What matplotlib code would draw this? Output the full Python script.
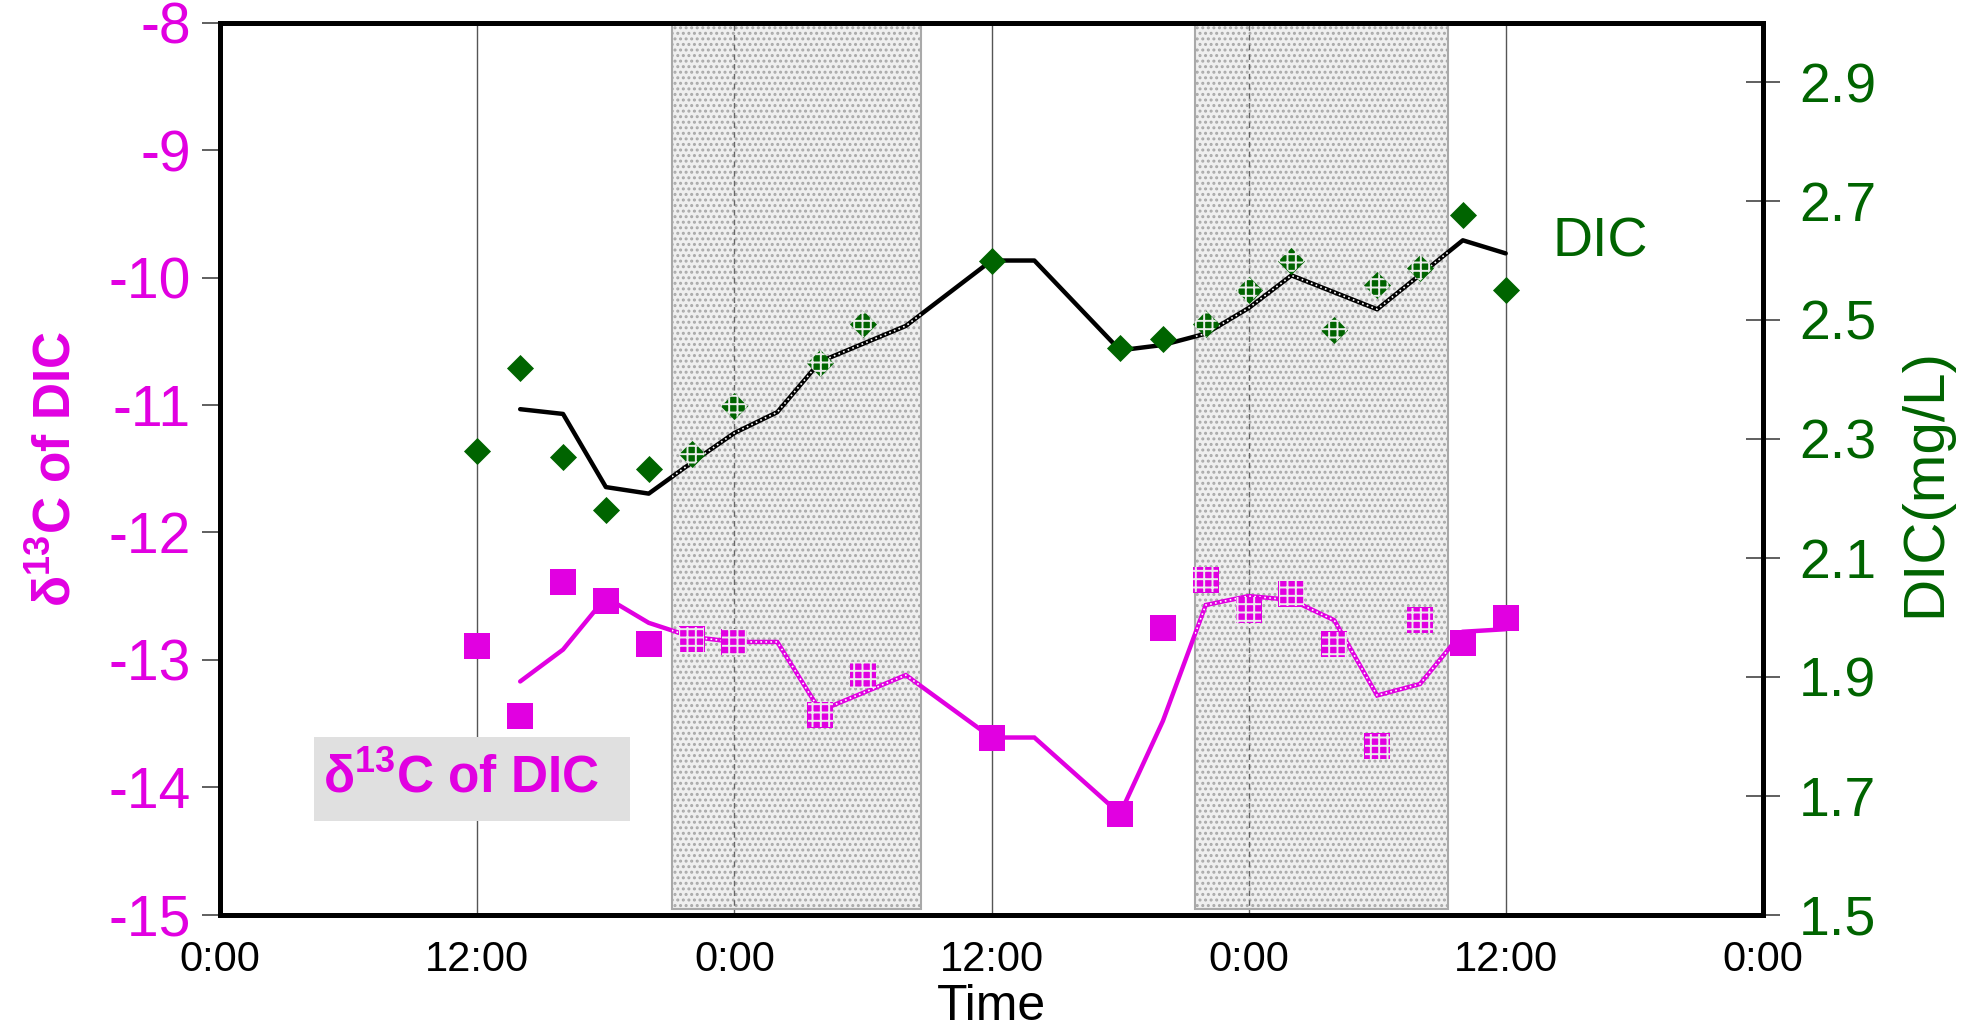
import matplotlib
matplotlib.use("Agg")
import matplotlib.pyplot as plt
from matplotlib.patches import Rectangle
from matplotlib.transforms import blended_transform_factory
import numpy as np

plt.rcParams['font.family'] = ['Liberation Sans', 'DejaVu Sans']
plt.rcParams['mathtext.fontset'] = 'custom'
plt.rcParams['mathtext.rm'] = 'Liberation Sans'
plt.rcParams['mathtext.bf'] = 'Liberation Sans:bold'
plt.rcParams['hatch.linewidth'] = 1.4

MAGENTA = '#e100e1'
GREEN = '#006400'

# sampling times, hours from the first midnight
t_pts = [12, 14, 16, 18, 20, 22, 24, 28, 30, 36, 42, 44, 46, 48, 50, 52, 54, 56, 58, 60]
dic_pts = [2.28, 2.42, 2.27, 2.18, 2.25, 2.275, 2.355, 2.427, 2.493, 2.60,
           2.453, 2.468, 2.493, 2.55, 2.60, 2.483, 2.558, 2.588, 2.677, 2.551]
d13c_pts = [-12.89, -13.44, -12.39, -12.54, -12.88, -12.84, -12.86, -13.43, -13.12, -13.61,
            -14.21, -12.75, -12.37, -12.61, -12.48, -12.88, -13.68, -12.69, -12.87, -12.67]

# smoothed curves
t_d13c_line = [14, 16, 18, 20, 22, 24, 26, 28, 32, 36, 38, 42, 44, 46, 48, 50, 52, 54, 56, 58, 60]
d13c_line = [-13.17, -12.92, -12.51, -12.71, -12.82, -12.86, -12.86, -13.40, -13.12, -13.61, -13.61,
             -14.21, -13.48, -12.57, -12.50, -12.53, -12.69, -13.28, -13.19, -12.78, -12.76]
t_dic_line = [14, 16, 18, 20, 22, 24, 26, 28, 32, 36, 38, 42, 44, 46, 48, 50, 54, 58, 60]
dic_line = [2.35, 2.342, 2.219, 2.208, 2.26, 2.31, 2.345, 2.43, 2.49, 2.60, 2.60,
            2.449, 2.458, 2.477, 2.52, 2.575, 2.518, 2.634, 2.612]

# night periods (hours)
nights = [(21.1, 32.7), (45.5, 57.3)]

x_ticks = [0, 12, 24, 36, 48, 60, 72]
x_labels = ['0:00', '12:00', '0:00', '12:00', '0:00', '12:00', '0:00']
left_ticks = [-8, -9, -10, -11, -12, -13, -14, -15]
right_ticks = [1.5, 1.7, 1.9, 2.1, 2.3, 2.5, 2.7, 2.9]

fig = plt.figure(figsize=(19.63, 10.30), dpi=100)
ax = fig.add_axes([0.1122, 0.112, 0.898 - 0.1122, 0.978 - 0.112])
ax2 = ax.twinx()

ax.set_xlim(0, 72)
ax.set_ylim(-15, -8)
ax2.set_ylim(1.5, 3.0)

# night shading
spans = []
for a, b in nights:
    sp = ax.axvspan(a, b, ymin=0.006, ymax=1.0, facecolor='#efefef', edgecolor='#a9a9a9',
                    lw=1.5, hatch='...', zorder=0)
    spans.append(sp)

# vertical reference lines
for h in [12, 36, 60]:
    ax.axvline(h, color='#555555', lw=1.0, zorder=1)
for h in [24, 48]:
    ax.axvline(h, color='#666666', lw=1.0, ls=(0, (4, 3)), zorder=1)

t_pts = np.array(t_pts)
dic_pts = np.array(dic_pts)
d13c_pts = np.array(d13c_pts)
is_night = np.zeros(len(t_pts), dtype=bool)
for a, b in nights:
    is_night |= (t_pts > a) & (t_pts < b)

# d13C line, dotted white where it crosses the night shading
ax.plot(t_d13c_line, d13c_line, color=MAGENTA, lw=3.2, solid_capstyle='round',
        solid_joinstyle='miter', zorder=3)
for sp in spans:
    ln, = ax.plot(t_d13c_line, d13c_line, color='white', lw=1.2, ls=(0, (1, 2)), zorder=3.5)
    ln.set_clip_path(sp)

ax.scatter(t_pts[~is_night], d13c_pts[~is_night], marker='s', s=330, color=MAGENTA,
           lw=0, zorder=4)
ax.scatter(t_pts[is_night], d13c_pts[is_night], marker='s', s=330, color=MAGENTA,
           lw=0, zorder=4)
ax.scatter(t_pts[is_night], d13c_pts[is_night], marker='s', s=330, facecolor='none',
           edgecolor='#ececec', lw=0, hatch='++', zorder=4.5)

# DIC line and points on the right axis
ax2.plot(t_dic_line, dic_line, color='black', lw=3.2, solid_capstyle='round', zorder=3)
for sp in spans:
    ln, = ax2.plot(t_dic_line, dic_line, color='white', lw=1.2, ls=(0, (1, 2)), zorder=3.5)
    ln.set_clip_path(sp)

ax2.scatter(t_pts[~is_night], dic_pts[~is_night], marker='D', s=190, color=GREEN,
            lw=0, zorder=4)
ax2.scatter(t_pts[is_night], dic_pts[is_night], marker='D', s=190, color=GREEN,
            lw=0, zorder=4)
ax2.scatter(t_pts[is_night], dic_pts[is_night], marker='D', s=190, facecolor='none',
            edgecolor='#ececec', lw=0, hatch='++', zorder=4.5)

# axes styling
for s in ['left', 'right', 'top', 'bottom']:
    ax.spines[s].set_linewidth(3.5)
    ax2.spines[s].set_linewidth(3.5)

ax.set_xticks(x_ticks)
ax.set_xticklabels(x_labels)
ax.tick_params(axis='x', length=0, pad=18, labelsize=30)
ax.set_yticks(left_ticks)
ax.set_yticklabels([str(v) for v in left_ticks])
ax.tick_params(axis='y', direction='out', length=13, width=1.2, color='#444444',
               labelsize=41, labelcolor=MAGENTA, pad=8)
ax2.set_yticks(right_ticks)
ax2.set_yticklabels([f'{v:.1f}' for v in right_ticks])
ax2.tick_params(axis='y', direction='inout', length=24, width=1.2, color='#444444',
                labelsize=40, labelcolor=GREEN, pad=14)

ax.set_xlabel('Time', fontsize=36, va='baseline')
ax.xaxis.set_label_coords(0.5, 0.0100,
                          transform=blended_transform_factory(ax.transAxes, fig.transFigure))
ax.set_ylabel(r'δ$^{\mathbf{13}}$C of DIC', fontsize=37, fontweight='bold', color=MAGENTA)
ax.yaxis.set_label_coords(-0.090, 0.5)
ax2.set_ylabel('DIC(mg/L)', fontsize=42, color=GREEN, rotation=90)
ax2.yaxis.set_label_coords(1.088, 0.485)

ax2.text(64.4, 2.63, 'DIC', fontsize=40, color=GREEN, ha='center', va='center')

# label box for the d13C series
ax.add_patch(Rectangle((4.38, -14.263), 19.11 - 4.38, 14.263 - 13.606,
                       facecolor='#e0e0e0', edgecolor='none', zorder=5))
ax.text(11.22, -13.93, r'δ$^{\mathbf{13}}$C of DIC', fontsize=37, fontweight='bold',
        color=MAGENTA, ha='center', va='center', zorder=6)

fig.savefig('out.png', dpi=100)
